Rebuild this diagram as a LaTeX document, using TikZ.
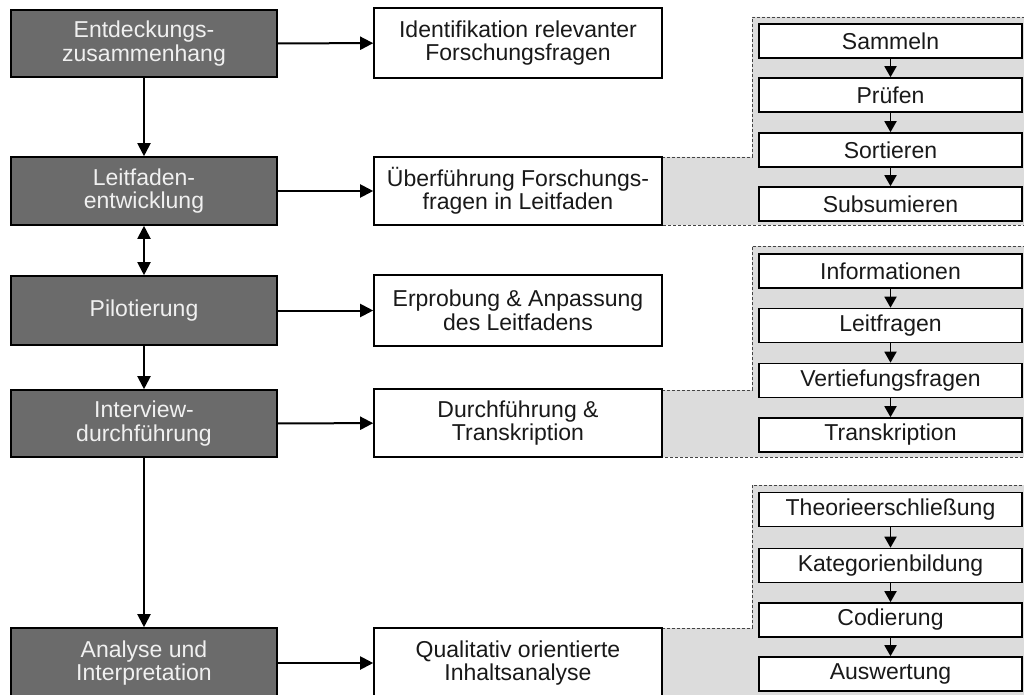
\documentclass[tikz,border=0pt]{standalone}
\usepackage{fontspec}
\setmainfont{Liberation Sans}
\usetikzlibrary{arrows.meta}
\definecolor{darkfill}{HTML}{6B6B6B}
\definecolor{darktext}{HTML}{F0F0F0}
\definecolor{panelfill}{HTML}{DCDCDC}
\definecolor{dashcol}{HTML}{444444}
\begin{document}
\begin{tikzpicture}[x=1pt,y=-1pt,
  every node/.style={font=\fontsize{23}{23.5}\selectfont, align=center, inner sep=0pt},
  darkbox/.style={draw=black, line width=1.6pt, fill=darkfill, text=darktext, minimum width=266pt},
  whitebox/.style={draw=black, line width=1.6pt, fill=white, text=black!90, minimum width=288pt},
  subbox/.style={draw=black, line width=1.6pt, fill=white, text=black!90, minimum width=263pt, minimum height=34pt},
  bigarrow/.style={line width=2pt, -{Triangle[width=13pt,length=13pt]}},
  bothbig/.style={line width=2pt, {Triangle[width=13pt,length=13pt]}-{Triangle[width=13pt,length=13pt]}},
  smallarrow/.style={line width=1.8pt, -{Triangle[width=12pt,length=11pt]}},
  panel/.style={fill=panelfill, draw=dashcol, line width=0.9pt, dash pattern=on 3pt off 2pt}]
\useasboundingbox (0,0) rectangle (1024,695);
\clip (0,0) rectangle (1024,695);
\fill[white] (0,0) rectangle (1024,695);

% gray panels
\draw[panel] (662,157) -- (752,157) -- (752,17) -- (1030,17) -- (1030,225) -- (662,225) -- cycle;
\draw[panel] (662,390) -- (752,390) -- (752,246) -- (1030,246) -- (1030,457) -- (662,457) -- cycle;
\draw[panel] (662,628) -- (752,628) -- (752,485) -- (1030,485) -- (1030,710) -- (662,710) -- cycle;

% left column
\node[darkbox, minimum height=67pt] (l1) at (144,43.5) {Entdeckungs-\\zusammenhang};
\node[darkbox, minimum height=68pt] (l2) at (144,191) {Leitfaden-\\entwicklung};
\node[darkbox, minimum height=69pt] (l3) at (144,310.5) {Pilotierung};
\node[darkbox, minimum height=67pt] (l4) at (144,423.5) {Interview-\\durchführung};
\node[darkbox, minimum height=70pt] (l5) at (144,663) {Analyse und\\Interpretation};

% middle column
\node[whitebox, minimum height=70pt] (m1) at (518,43) {Identifikation relevanter\\Forschungsfragen};
\node[whitebox, minimum height=68pt] (m2) at (518,191) {Überführung Forschungs-\\fragen in Leitfaden};
\node[whitebox, minimum height=71pt] (m3) at (518,310.5) {Erprobung \& Anpassung\\des Leitfadens};
\node[whitebox, minimum height=68pt] (m4) at (518,423) {Durchführung \&\\Transkription};
\node[whitebox, minimum height=70pt] (m5) at (518,663) {Qualitativ orientierte\\Inhaltsanalyse};

% right panels
\node[subbox] (a1) at (890.5,41) {Sammeln};
\node[subbox] (a2) at (890.5,95) {Prüfen};
\node[subbox] (a3) at (890.5,150) {Sortieren};
\node[subbox] (a4) at (890.5,204) {Subsumieren};

\node[subbox] (b1) at (890.5,271) {Informationen};
\node[subbox] (b2) at (890.5,325.5) {Leitfragen};
\node[subbox] (b3) at (890.5,380.5) {Vertiefungsfragen};
\node[subbox] (b4) at (890.5,435) {Transkription};

\node[subbox] (c1) at (890.5,509.5) {Theorieerschließung};
\node[subbox] (c2) at (890.5,565.5) {Kategorienbildung};
\node[subbox] (c3) at (890.5,620) {Codierung};
\node[subbox] (c4) at (890.5,674) {Auswertung};

% connectors
\draw[bigarrow] (l1) -- (l2);
\draw[bothbig] (l2) -- (l3);
\draw[bigarrow] (l3) -- (l4);
\draw[bigarrow] (l4) -- (l5.north);

\draw[bigarrow] (l1) -- (m1);
\draw[bigarrow] (l2) -- (m2);
\draw[bigarrow] (l3) -- (m3);
\draw[bigarrow] (l4) -- (m4);
\draw[bigarrow] (l5) -- (m5);

\draw[smallarrow] (a1) -- (a2);
\draw[smallarrow] (a2) -- (a3);
\draw[smallarrow] (a3) -- (a4);
\draw[smallarrow] (b1) -- (b2);
\draw[smallarrow] (b2) -- (b3);
\draw[smallarrow] (b3) -- (b4);
\draw[smallarrow] (c1) -- (c2);
\draw[smallarrow] (c2) -- (c3);
\draw[smallarrow] (c3) -- (c4);
\end{tikzpicture}
\end{document}
